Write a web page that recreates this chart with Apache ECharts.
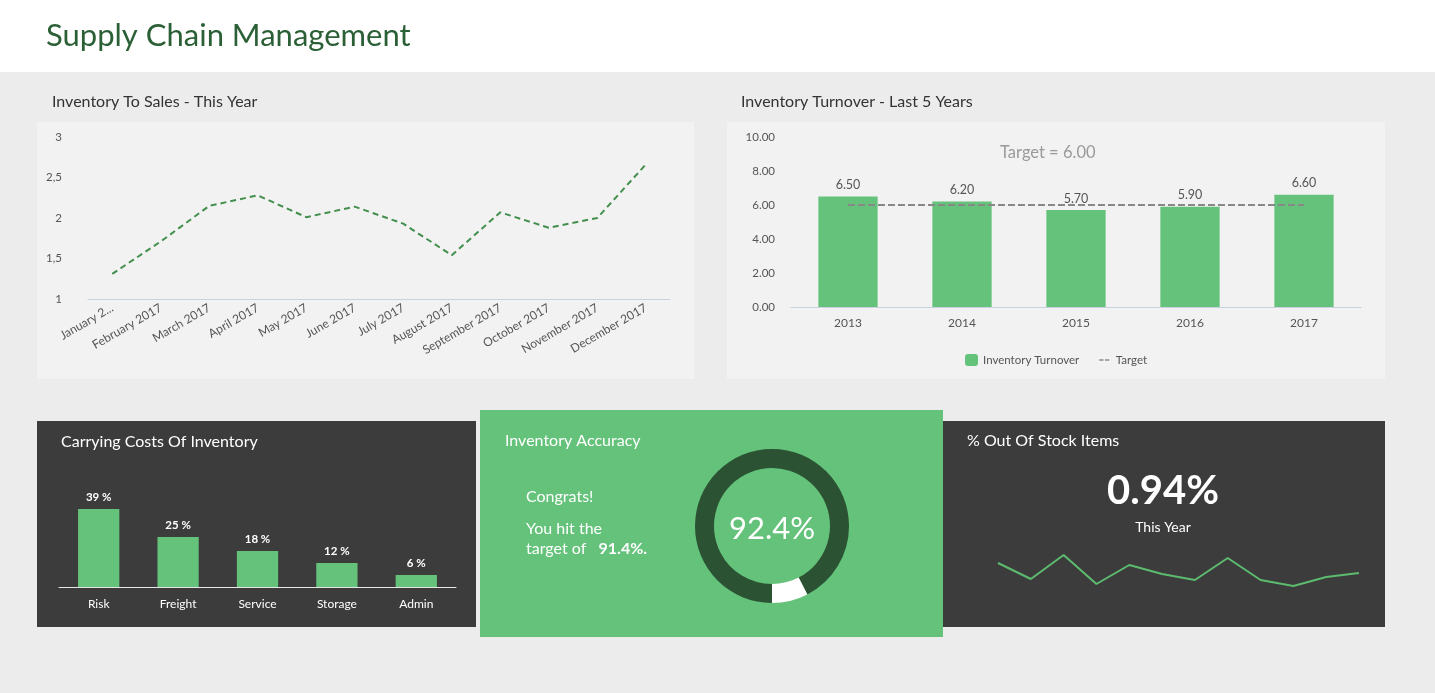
<!DOCTYPE html>
<html>
<head>
<meta charset="utf-8">
<script src="https://cdn.jsdelivr.net/npm/echarts@6/dist/echarts.min.js"></script>
<style>
  html, body { margin: 0; padding: 0; background: #ececec; }
  #main { width: 1435px; height: 693px; }
</style>
</head>
<body>
<div id="main"></div>
<script>
const months = ['January 2017', 'February 2017', 'March 2017', 'April 2017', 'May 2017', 'June 2017',
  'July 2017', 'August 2017', 'September 2017', 'October 2017', 'November 2017', 'December 2017'];
const salesRatio = [1.31, 1.71, 2.15, 2.28, 2.01, 2.14, 1.93, 1.54, 2.07, 1.88, 2.0, 2.66];

const years = ['2013', '2014', '2015', '2016', '2017'];
const turnover = [6.5, 6.2, 5.7, 5.9, 6.6];
const turnoverTarget = [6, 6, 6, 6, 6];

const costCats = ['Risk', 'Freight', 'Service', 'Storage', 'Admin'];
const costShares = [39, 25, 18, 12, 6];

const accuracy = 92.4;
const accuracyTarget = 91.4;

const outOfStock = 0.94;
const stockTrend = [2.7, 1.1, 3.5, 0.6, 2.5, 1.6, 1.0, 3.2, 1.0, 0.4, 1.3, 1.7];

const FONT = 'Lato';
const GREEN = '#64c27a';
const DARK = '#3c3c3c';
const TXT = '#555';

const chart = echarts.init(document.getElementById('main'));

function panel(x, y, w, h, color) {
  return { type: 'rect', z: -10, shape: { x: x, y: y, width: w, height: h }, style: { fill: color } };
}
function label(x, y, text, size, color, weight) {
  return {
    type: 'text', z: 10, x: x, y: y,
    style: { text: text, fontSize: size, fill: color, fontFamily: FONT, fontWeight: weight || 'normal', verticalAlign: 'middle' }
  };
}
function centered(x, y, text, size, weight) {
  return {
    type: 'text', z: 10, x: x, y: y,
    style: { text: text, fontSize: size, fill: '#fff', fontFamily: FONT, fontWeight: weight, align: 'center', verticalAlign: 'middle' }
  };
}

// dashed icon for the target legend entry (tiny corner marks keep the box size)
const dashIcon = 'path://M0,0h0.01v0.01h-0.01z M0,5.2h4.2v1.6h-4.2z M5.8,5.2h4.2v1.6h-4.2z M10,12h0.01v0.01h-0.01z';

const option = {
  backgroundColor: '#ececec',
  textStyle: { fontFamily: FONT },
  animation: false,
  graphic: [
    panel(0, 0, 1435, 72, '#ffffff'),
    panel(37, 122, 657, 257, '#f2f2f2'),
    panel(727, 122, 658, 257, '#f2f2f2'),
    panel(37, 421, 439, 206, DARK),
    panel(480, 410, 463, 227, GREEN),
    panel(943, 421, 442, 206, DARK),
    label(46, 36, 'Supply Chain Management', 31, '#2b5f36'),
    label(52, 102, 'Inventory To Sales - This Year', 16, '#333'),
    label(741, 102, 'Inventory Turnover - Last 5 Years', 16, '#333'),
    label(1000, 153, 'Target = 6.00', 16.5, '#9a9a9a'),
    label(61, 442, 'Carrying Costs Of Inventory', 16, '#fff'),
    label(505, 441, 'Inventory Accuracy', 16, '#fff'),
    label(526, 497, 'Congrats!', 16, '#fff'),
    label(526, 529, 'You hit the', 16, '#fff'),
    {
      type: 'text', z: 10, x: 526, y: 549,
      style: {
        text: '{n|target of}   {b|' + accuracyTarget + '%.}',
        fill: '#fff', fontSize: 16, fontFamily: FONT,
        verticalAlign: 'middle',
        rich: {
          n: { fontSize: 16, fill: '#fff', fontFamily: FONT },
          b: { fontSize: 16, fill: '#fff', fontFamily: FONT, fontWeight: 'bold' }
        }
      }
    },
    centered(772, 529, accuracy + '%', 31, 'normal'),
    label(967, 441, '% Out Of Stock Items', 16, '#fff'),
    centered(1163, 491, outOfStock + '%', 40, 'bold'),
    centered(1163, 527, 'This Year', 14, 'normal')
  ],
  legend: {
    left: 960, top: 349,
    itemWidth: 13, itemHeight: 12, itemGap: 20,
    textStyle: { color: TXT, fontSize: 11.5, fontFamily: FONT },
    data: [
      { name: 'Inventory Turnover' },
      { name: 'Target', icon: dashIcon, itemStyle: { color: '#8c8c8c' } }
    ]
  },
  grid: [
    { left: 88, top: 137, width: 582, height: 162 },
    { left: 791, top: 137, width: 570, height: 170 },
    { left: 59, top: 487, width: 397, height: 100 },
    { left: 998, top: 550, width: 361, height: 40 }
  ],
  xAxis: [
    {
      gridIndex: 0, type: 'category', data: months,
      axisLine: { lineStyle: { color: '#c9d1e1' } }, axisTick: { show: false },
      axisLabel: {
        rotate: 30, color: TXT, fontSize: 12, margin: 8,
        formatter: (v, i) => i === 0 ? v.slice(0, 9) + '...' : v
      }
    },
    {
      gridIndex: 1, type: 'category', data: years,
      axisLine: { lineStyle: { color: '#c9d1e1' } }, axisTick: { show: false },
      axisLabel: { color: TXT, fontSize: 12, margin: 10 }
    },
    {
      gridIndex: 2, type: 'category', data: costCats,
      axisLine: { lineStyle: { color: '#e6e6e6' } }, axisTick: { show: false },
      axisLabel: { color: '#fff', fontSize: 12, margin: 11 }
    },
    { gridIndex: 3, type: 'category', data: stockTrend.map((v, i) => i), boundaryGap: false, show: false }
  ],
  yAxis: [
    {
      gridIndex: 0, type: 'value', min: 1, max: 3, interval: 0.5,
      splitLine: { show: false }, axisLine: { show: false }, axisTick: { show: false },
      axisLabel: { color: TXT, fontSize: 11.5, margin: 26, formatter: v => String(v).replace('.', ',') }
    },
    {
      gridIndex: 1, type: 'value', min: 0, max: 10, interval: 2,
      splitLine: { show: false }, axisLine: { show: false }, axisTick: { show: false },
      axisLabel: { color: TXT, fontSize: 11.5, margin: 16, formatter: v => v.toFixed(2) }
    },
    { gridIndex: 2, type: 'value', min: 0, max: 50, show: false },
    { gridIndex: 3, type: 'value', min: 0, max: 4, show: false }
  ],
  series: [
    {
      type: 'line', xAxisIndex: 0, yAxisIndex: 0, data: salesRatio,
      symbol: 'none', lineStyle: { color: '#428f4e', width: 2, type: [6, 4] }
    },
    {
      name: 'Inventory Turnover', type: 'bar', xAxisIndex: 1, yAxisIndex: 1, data: turnover,
      barWidth: '52%', itemStyle: { color: GREEN },
      label: { show: true, position: 'top', color: TXT, fontSize: 12.5, formatter: p => p.value.toFixed(2) }
    },
    {
      name: 'Target', type: 'line', xAxisIndex: 1, yAxisIndex: 1, data: turnoverTarget,
      symbol: 'none', itemStyle: { color: '#8c8c8c' },
      lineStyle: { color: '#888', width: 2, type: [7, 3] }, z: 5
    },
    {
      type: 'bar', xAxisIndex: 2, yAxisIndex: 2, data: costShares,
      barWidth: '52%', itemStyle: { color: GREEN },
      label: { show: true, position: 'top', color: '#fff', fontSize: 11.5, fontWeight: 'bold', distance: 6, formatter: '{c} %' }
    },
    {
      type: 'pie', center: [772, 526], radius: [58, 77], startAngle: 270, clockwise: true,
      silent: true, label: { show: false }, labelLine: { show: false },
      data: [
        { value: accuracy, itemStyle: { color: '#2a5233' } },
        { value: 100 - accuracy, itemStyle: { color: '#ffffff' } }
      ]
    },
    {
      type: 'line', xAxisIndex: 3, yAxisIndex: 3, data: stockTrend,
      symbol: 'none', lineStyle: { color: '#5cbb6f', width: 2 }
    }
  ]
};

chart.setOption(option);
window.addEventListener('resize', () => chart.resize());
</script>
</body>
</html>
